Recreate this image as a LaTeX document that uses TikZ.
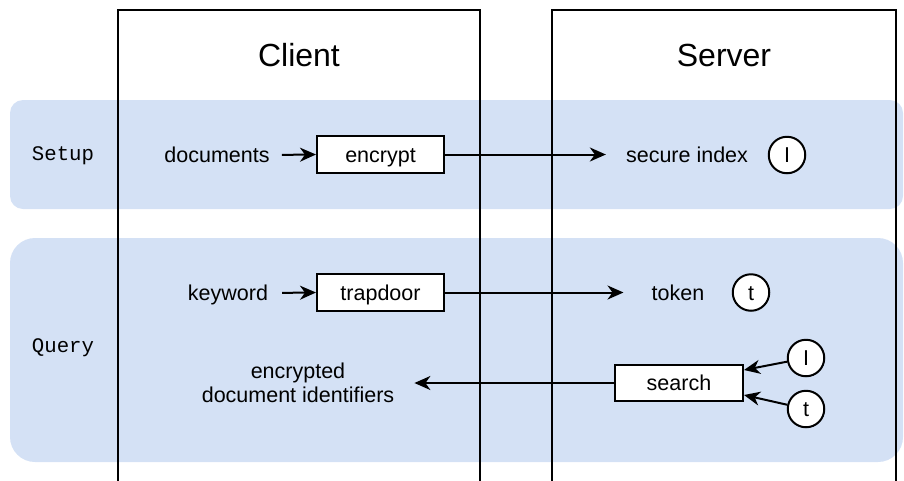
\documentclass[tikz,border=0pt]{standalone}
\usepackage{fontspec}
\setmainfont{Liberation Sans}
\setmonofont{Liberation Mono}
\usetikzlibrary{arrows.meta,positioning}
\definecolor{bandblue}{RGB}{212,225,245}
\tikzset{
  lw/.style={line width=2pt},
  band/.style={fill=bandblue, draw=none},
  lane/.style={lw, draw=black},
  txt/.style={inner sep=0pt, font=\fontsize{21.5}{24}\selectfont, align=center},
  oneline/.style={txt, text height=15.5pt, text depth=0pt},
  ttl/.style={inner sep=0pt, font=\fontsize{32}{36}\selectfont},
  phase/.style={inner sep=0pt, font=\ttfamily\fontsize{20.7}{24}\selectfont, text height=15pt, text depth=0pt},
  procbox/.style={lw, draw=black, fill=white, minimum width=127pt, minimum height=37pt, inner sep=0pt, text height=15.5pt, text depth=0pt, font=\fontsize{21.5}{25}\selectfont},
  keycirc/.style={lw, draw=black, fill=white, circle, minimum size=36.5pt, inner sep=0pt, text height=15.5pt, text depth=0pt, font=\fontsize{21.5}{25}\selectfont},
  arr/.style={lw, -{Stealth[length=16pt, width=14pt, inset=5pt]}},
}
\begin{document}
\begin{tikzpicture}[x=1pt, y=-1pt]
\useasboundingbox (0,0) rectangle (904,480);
% bands
\fill[band, rounded corners=13pt] (10,100) rectangle (903,209);
\fill[band, rounded corners=25pt] (10,238) rectangle (903,462);
% lanes
\draw[lane] (118,495) -- (118,10) -- (480,10) -- (480,495);
\draw[lane] (552,495) -- (552,10) -- (896,10) -- (896,495);
% titles
\node[ttl] (client) at (299,55) {Client};
\node[ttl] (server) at (724,55) {Server};
% phase labels
\node[phase] (setup) at (63,153) {Setup};
\node[phase] (query) at (63,344.5) {Query};
% setup row
\node[oneline] (docs) at (217,155) {documents};
\node[procbox] (encrypt) at (380.5,154.5) {encrypt};
\node[oneline] (secidx) at (687,155) {secure index};
\node[keycirc] (I1) at (787,155) {I};
\draw[arr, shorten <=12pt] (docs.east) -- (encrypt.west);
\draw[arr, shorten >=20pt] (encrypt.east) -- (encrypt.east -| secidx.west);
% query row
\node[oneline] (kw) at (228,293) {keyword};
\node[procbox] (trap) at (380.5,292.5) {trapdoor};
\node[oneline] (token) at (678,293) {token};
\node[keycirc] (t1) at (751,292.5) {t};
\draw[arr, shorten <=14pt] (kw.east) -- (trap.west);
\draw[arr, shorten >=28pt] (trap.east) -- (trap.east -| token.west);
% search
\node[procbox, minimum width=128pt, minimum height=36pt] (search) at (679,383) {search};
\node[txt] (encids) at (298,383) {encrypted\\document identifiers};
\node[keycirc] (I2) at (806,358) {I};
\node[keycirc] (t2) at (806,409) {t};
\draw[arr, shorten >=20pt] (search.west) -- (search.west -| encids.east);
\draw[arr] (I2) -- ([yshift=13pt]search.east);
\draw[arr] (t2) -- ([yshift=-12pt]search.east);
\end{tikzpicture}
\end{document}
